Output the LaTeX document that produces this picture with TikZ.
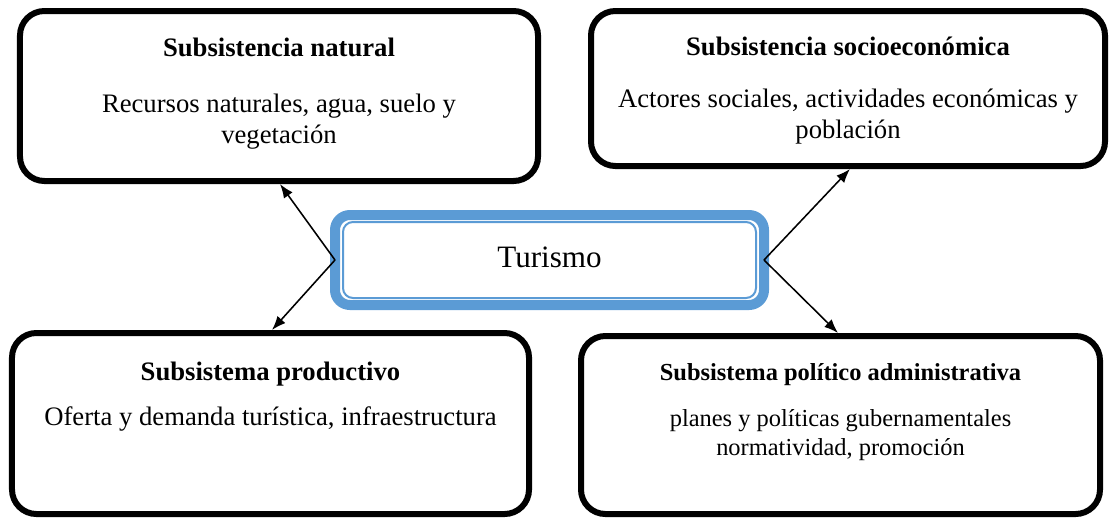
\documentclass[tikz,border=0pt]{standalone}
\usepackage{fontspec}
\setmainfont{Liberation Serif}
\usetikzlibrary{arrows.meta}
\definecolor{tblue}{HTML}{5B9BD5}
\begin{document}
\begin{tikzpicture}[x=0.45pt,y=-0.45pt,
  sbox/.style={draw=black, line width=2.7pt, rounded corners=11pt, rectangle, inner sep=0pt, fill=white},
  ttl/.style={font=\fontsize{12}{14}\selectfont\bfseries, anchor=base, inner sep=0pt},
  txt/.style={font=\fontsize{12}{14}\selectfont, anchor=base, inner sep=0pt},
  ttls/.style={font=\fontsize{11}{13}\selectfont\bfseries, anchor=base, inner sep=0pt},
  txts/.style={font=\fontsize{11}{13}\selectfont, anchor=base, inner sep=0pt},
  arr/.style={-{Latex[length=6.3pt,width=4.8pt]}, line width=0.7pt, black}
]
\useasboundingbox (0,0) rectangle (1110,518);

% boxes
\node[sbox, minimum width=233.1pt, minimum height=76.5pt] (tl) at (279,96) {};
\node[sbox, minimum width=231.3pt, minimum height=69.75pt] (tr) at (848,88.5) {};
\node[sbox, minimum width=232.65pt, minimum height=81.45pt] (bl) at (270.5,423.5) {};
\node[sbox, minimum width=233.55pt, minimum height=80.1pt] (br) at (840.5,425) {};

% central node
\node[draw=tblue, line width=4.5pt, rounded corners=6.75pt, outer sep=0pt, inner sep=0pt,
      minimum width=193.05pt, minimum height=40.5pt,
      font=\fontsize{14}{16}\selectfont, text height=8pt, text depth=1.7pt] (tur) at (549.5,260) {Turismo};
\draw[tblue, line width=0.9pt, rounded corners=4.5pt]
  ([shift={(8,7)}]tur.north west) rectangle ([shift={(-8,-7)}]tur.south east);

% texts
\node[ttl] (tlh) at (279,56) {Subsistencia natural};
\node[txt] (tl1) at (279,112) {Recursos naturales, agua, suelo y};
\node[txt] (tl2) at (279,143) {vegetación};

\node[ttl] (trh) at (848,55) {Subsistencia socioeconómica};
\node[txt] (tr1) at (848,107) {Actores sociales, actividades económicas y};
\node[txt] (tr2) at (848,138) {población};

\node[ttl] (blh) at (270.5,380) {Subsistema productivo};
\node[txt] (bl1) at (270.5,425) {Oferta y demanda turística, infraestructura};

\node[ttls] (brh) at (840.5,380) {Subsistema político administrativa};
\node[txts] (br1) at (840.5,426) {planes y políticas gubernamentales};
\node[txts] (br2) at (840.5,455) {normatividad, promoción};

% connectors
\coordinate (p1) at (280,0);
\coordinate (p2) at (272,0);
\coordinate (p3) at (850,0);
\coordinate (p4) at (838,0);
\draw[arr] (tur.west) -- (tl.south -| p1);
\draw[arr] (tur.west) -- (bl.north -| p2);
\draw[arr] (tur.east) -- (tr.south -| p3);
\draw[arr] (tur.east) -- (br.north -| p4);
\end{tikzpicture}
\end{document}
